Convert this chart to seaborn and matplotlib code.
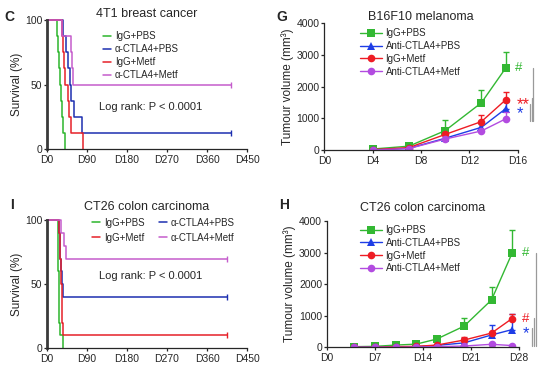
import matplotlib
matplotlib.use("Agg")
import matplotlib.pyplot as plt
import matplotlib.transforms as mtransforms
import numpy as np
import seaborn as sns

# ---- Survival data (day, % surviving) ----
surv_groups = ["IgG+PBS", "α-CTLA4+PBS", "IgG+Metf", "α-CTLA4+Metf"]

# 4T1 breast cancer
c_days = {
    "IgG+PBS": [0, 23, 25, 27, 29, 32, 34, 37, 40],
    "α-CTLA4+PBS": [0, 36, 42, 48, 52, 54, 61, 78, 415],
    "IgG+Metf": [0, 34, 36, 38, 40, 48, 50, 53, 81],
    "α-CTLA4+Metf": [0, 34, 55, 57, 59, 415],
}
c_surv = {
    "IgG+PBS": [100, 87.5, 75, 62.5, 50, 37.5, 25, 12.5, 0],
    "α-CTLA4+PBS": [100, 87.5, 75, 62.5, 50, 37.5, 25, 12.5, 12.5],
    "IgG+Metf": [100, 87.5, 75, 62.5, 50, 37.5, 25, 12.5, 0],
    "α-CTLA4+Metf": [100, 87.5, 75, 62.5, 50, 50],
}

# CT26 colon carcinoma
i_days = {
    "IgG+PBS": [0, 24, 25, 26, 27, 28, 29, 35],
    "α-CTLA4+PBS": [0, 28, 29, 30, 32, 34, 37, 405],
    "IgG+Metf": [0, 28, 29, 30, 31, 32, 33, 34, 36, 405],
    "α-CTLA4+Metf": [0, 31, 39, 43, 405],
}
i_surv = {
    "IgG+PBS": [100, 80, 60, 40, 30, 20, 10, 0],
    "α-CTLA4+PBS": [100, 90, 80, 70, 60, 50, 40, 40],
    "IgG+Metf": [100, 90, 80, 70, 60, 50, 40, 20, 10, 10],
    "α-CTLA4+Metf": [100, 90, 80, 70, 70],
}

surv_ticks = [0, 90, 180, 270, 360, 450]
surv_ticklabels = ["D0", "D90", "D180", "D270", "D360", "D450"]

# ---- Tumour volume data (mm3, mean and upper SEM) ----
tum_groups = ["IgG+PBS", "Anti-CTLA4+PBS", "IgG+Metf", "Anti-CTLA4+Metf"]

g_days = [4, 7, 10, 13, 15]
g_mean = {
    "IgG+PBS": [30, 120, 610, 1490, 2580],
    "Anti-CTLA4+PBS": [0, 50, 370, 715, 1300],
    "IgG+Metf": [10, 75, 490, 895, 1580],
    "Anti-CTLA4+Metf": [0, 45, 345, 600, 980],
}
g_err = {
    "IgG+PBS": [0, 0, 340, 410, 525],
    "Anti-CTLA4+PBS": [0, 0, 0, 0, 220],
    "IgG+Metf": [0, 0, 0, 210, 240],
    "Anti-CTLA4+Metf": [0, 0, 0, 0, 230],
}

h_days = [4, 7, 10, 13, 16, 20, 24, 27]
h_mean = {
    "IgG+PBS": [20, 30, 70, 100, 260, 670, 1500, 2980],
    "Anti-CTLA4+PBS": [0, 0, 10, 20, 60, 140, 390, 560],
    "IgG+Metf": [0, 0, 20, 30, 70, 230, 450, 910],
    "Anti-CTLA4+Metf": [0, 0, 0, 10, 20, 40, 95, 55],
}
h_err = {
    "IgG+PBS": [0, 0, 0, 0, 0, 250, 410, 730],
    "Anti-CTLA4+PBS": [0, 0, 0, 0, 0, 170, 330, 500],
    "IgG+Metf": [0, 0, 0, 0, 0, 100, 0, 150],
    "Anti-CTLA4+Metf": [0, 0, 0, 0, 0, 0, 0, 0],
}

# significance marks next to the last point of a group
g_sig = [("#", "IgG+PBS"), ("**", "IgG+Metf"), ("*", "Anti-CTLA4+PBS")]
h_sig = [("#", "IgG+PBS"), ("#", "IgG+Metf"), ("*", "Anti-CTLA4+PBS")]
# grey comparison bars: (x, top, bottom)
g_bars = [(17.3, 2580, 900), (17.15, 1630, 900), (17.0, 1450, 900)]
h_bars = [(30.5, 2990, 50), (30.2, 925, 50), (29.9, 610, 50)]

surv_colors = dict(zip(surv_groups, ["#2cb52c", "#1c2fb0", "#e62128", "#c55ccc"]))
tum_colors = dict(zip(tum_groups, ["#33b833", "#1e3de6", "#ee1c24", "#b24be0"]))
tum_markers = dict(zip(tum_groups, ["s", "^", "o", "o"]))

sns.set_theme(style="ticks")
plt.rcParams["font.family"] = ["Liberation Sans", "DejaVu Sans"]
plt.rcParams["axes.linewidth"] = 0.9
plt.rcParams["xtick.major.width"] = 0.9
plt.rcParams["ytick.major.width"] = 0.9
plt.rcParams["xtick.major.size"] = 2.5
plt.rcParams["ytick.major.size"] = 2.5
plt.rcParams["xtick.major.pad"] = 1.5
plt.rcParams["ytick.major.pad"] = 1
plt.rcParams["xtick.labelsize"] = 7.5
plt.rcParams["ytick.labelsize"] = 7.5

fig = plt.figure(figsize=(5.5, 3.74), dpi=100)
ax_c = fig.add_axes([0.0855, 0.601, 0.3636, 0.3455])
ax_g = fig.add_axes([0.5896, 0.599, 0.3516, 0.3388])
ax_i = fig.add_axes([0.0855, 0.0687, 0.3636, 0.343])
ax_h = fig.add_axes([0.5945, 0.0714, 0.349, 0.3377])


def draw_survival(ax, days, surv, title, pad, logrank_y):
    for grp in surv_groups:
        sns.lineplot(x=days[grp], y=surv[grp], drawstyle="steps-post", estimator=None,
                     sort=False, color=surv_colors[grp], lw=1.1, ax=ax, label=grp)
        if surv[grp][-1] > 0:
            ax.plot(days[grp][-1], surv[grp][-1], marker="|", ms=4, mew=1,
                    color=surv_colors[grp])
    ax.set_xlim(0, 450)
    ax.set_ylim(0, 100)
    ax.set_xticks(surv_ticks)
    ax.set_xticklabels(surv_ticklabels)
    ax.set_yticks([0, 50, 100])
    ax.set_ylabel("Survival (%)", fontsize=8.5, labelpad=1)
    ax.set_title(title, fontsize=9, pad=pad)
    ax.spines["left"].set_linewidth(2)
    ax.spines["left"].set_color("#3a3a3a")
    ax.text(232, logrank_y, "Log rank: P < 0.0001", fontsize=8, ha="center", va="center")
    for ln in ax.get_lines():
        ln.set_clip_on(False)
    sns.despine(ax=ax)


def draw_tumour(ax, days, mean, err, title, pad, ticks, sig, bars, sig_x):
    for grp in tum_groups:
        col = tum_colors[grp]
        sns.lineplot(x=days, y=mean[grp], marker=tum_markers[grp], markersize=5.5,
                     markeredgewidth=0, color=col, lw=1, ax=ax, label=grp, estimator=None)
        e = np.array(err[grp])
        m = e > 0
        if m.any():
            x = np.array(days)[m]
            y = np.array(mean[grp])[m]
            ax.errorbar(x, y, yerr=[np.zeros(m.sum()), e[m]], fmt="none", ecolor=col,
                        elinewidth=1, capsize=2.5, capthick=1)
    # asterisks sit high in the font, so drop their baseline a little
    star_tr = mtransforms.offset_copy(ax.transData, fig=fig, y=-9, units="dots")
    for txt, grp in sig:
        y = mean[grp][-1]
        if "*" in txt:
            ax.text(sig_x + 0.1, y, txt, color=tum_colors[grp], fontsize=12, ha="left",
                    va="baseline", transform=star_tr, clip_on=False)
        else:
            ax.text(sig_x, y, txt, color=tum_colors[grp], fontsize=9.5, ha="left",
                    va="center", clip_on=False)
    for x, top, bot in bars:
        ax.plot([x, x], [bot, top], color="#9a9a9a", lw=0.9, clip_on=False)
    ax.set_xlim(0, ticks[-1])
    ax.set_ylim(0, 4000)
    ax.set_xticks(ticks)
    ax.set_xticklabels(["D%d" % t for t in ticks])
    ax.set_yticks([0, 1000, 2000, 3000, 4000])
    ax.set_ylabel("Tumour volume (mm³)", fontsize=8.5, labelpad=2)
    ax.set_title(title, fontsize=9, pad=pad)
    sns.despine(ax=ax)


draw_survival(ax_c, c_days, c_surv, "4T1 breast cancer", 0.5, 33)
draw_survival(ax_i, i_days, i_surv, "CT26 colon carcinoma", 7.5, 56)
draw_tumour(ax_g, g_days, g_mean, g_err, "B16F10 melanoma", 1.5, [0, 4, 8, 12, 16],
            g_sig, g_bars, 15.8)
draw_tumour(ax_h, h_days, h_mean, h_err, "CT26 colon carcinoma", 7.5, [0, 7, 14, 21, 28],
            h_sig, h_bars, 28.5)

# legends
leg_kw = dict(frameon=False, fontsize=7, borderpad=0, borderaxespad=0,
              handletextpad=0.4, bbox_transform=fig.transFigure, loc="upper left")
h_c, l_c = ax_c.get_legend_handles_labels()
ax_c.legend(h_c[:4], l_c[:4], bbox_to_anchor=(0.188, 0.916), handlelength=0.8,
            labelspacing=0.3, **leg_kw)
h_i, l_i = ax_i.get_legend_handles_labels()
order = [0, 2, 1, 3]
ax_i.legend([h_i[k] for k in order], [l_i[k] for k in order], ncol=2,
            bbox_to_anchor=(0.168, 0.418), handlelength=0.8, labelspacing=0.5,
            columnspacing=1.5, **leg_kw)
for ax, y0 in [(ax_g, 0.924), (ax_h, 0.398)]:
    hh, ll = ax.get_legend_handles_labels()
    ax.legend(hh[:4], ll[:4], bbox_to_anchor=(0.655, y0), handlelength=2.2,
              labelspacing=0.28, **leg_kw)

# panel letters
for x, y, s in [(0.008, 0.955, "C"), (0.502, 0.955, "G"), (0.018, 0.452, "I"), (0.507, 0.452, "H")]:
    fig.text(x, y, s, fontsize=10, fontweight="bold", va="center")

fig.savefig("out.png", dpi=100)
